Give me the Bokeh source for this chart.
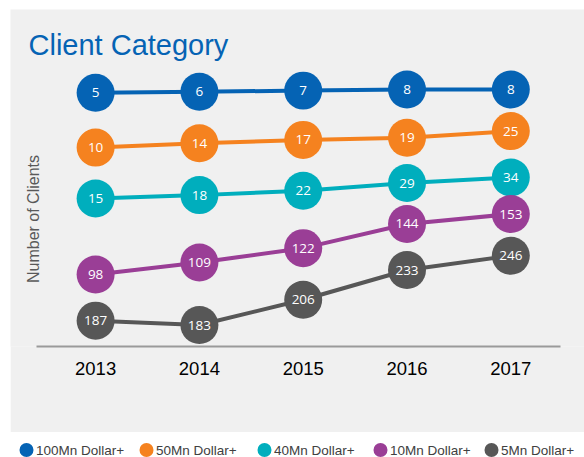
import numpy as np
from bokeh.plotting import figure
from bokeh.models import ColumnDataSource, Label, FixedTicker, Range1d
from bokeh.layouts import column
from bokeh.embed import file_html
from bokeh.resources import INLINE
from bokeh.core.properties import value

# ---------------- data ----------------
years = [2013, 2014, 2015, 2016, 2017]
year_labels = ["2013", "2014", "2015", "2016", "2017"]
series_names = ["100Mn Dollar+", "50Mn Dollar+", "40Mn Dollar+", "10Mn Dollar+", "5Mn Dollar+"]
clients_100mn = [5, 6, 7, 8, 8]
clients_50mn = [10, 14, 17, 19, 25]
clients_40mn = [15, 18, 22, 29, 34]
clients_10mn = [98, 109, 122, 144, 153]
clients_5mn = [187, 183, 206, 233, 246]
all_series = [clients_100mn, clients_50mn, clients_40mn, clients_10mn, clients_5mn]

# ---------------- layout / style ----------------
# the source chart stacks every series in its own vertical band
band_offset = [0, 54.8, 106.0, 258.2, 389.1]
colors = ["#0563b4", "#f5821f", "#00aebd", "#9a3e96", "#575757"]
GRAY = "#f0f0f0"

W_MAIN, H_MAIN = 574, 423
W_LEG, H_LEG = 584, 25
BOTTOM = 86
FRAME_H = H_MAIN - BOTTOM
LEFT, TOP = 10, 9
X0, X1 = 2012.180, 2017.710
Y0, Y1 = -225.6, 80.73
# legend strip layout (pixel positions of the legend entries)
legend_dot_x = [26, 146, 264, 380, 491]
legend_text_gap = 9.5
legend_mid_y = 7.5


def px_x(page_x):
    return X0 + (page_x - LEFT) / W_MAIN * (X1 - X0)


def px_y(page_y):
    return Y1 - (page_y - TOP) / FRAME_H * (Y1 - Y0)


p = figure(width=W_MAIN, height=H_MAIN, x_range=(X0, X1), y_range=(Y0, Y1),
           output_backend="svg", toolbar_location=None, y_axis_location=None,
           min_border_left=0, min_border_right=0, min_border_top=0,
           min_border_bottom=BOTTOM)
p.margin = (TOP, 0, 0, LEFT)
p.background_fill_color = GRAY
p.border_fill_color = GRAY
p.outline_line_color = None
p.grid.visible = False

ax = p.xaxis[0]
ax.ticker = FixedTicker(ticks=years)
ax.major_label_overrides = {y: l for y, l in zip(years, year_labels)}
ax.bounds = (px_x(36), px_x(560))
ax.axis_line_color = "#9a9a9a"
ax.axis_line_width = 2
ax.major_tick_line_color = None
ax.minor_tick_line_color = None
ax.major_label_text_font = "Liberation Sans"
ax.major_label_text_font_size = "18.5px"
ax.major_label_text_color = "#000000"
ax.major_label_standoff = 9

for vals, off, col in zip(all_series, band_offset, colors):
    src = ColumnDataSource(dict(x=years, y=[v - off for v in vals],
                                label=[str(v) for v in vals]))
    p.line("x", "y", source=src, line_color=col, line_width=4)
    p.scatter("x", "y", source=src, size=38, fill_color=col, line_color=None)
    p.text("x", "y", text="label", source=src, text_color="white",
           text_font=value("Open Sans"), text_font_size="13.5px",
           text_align="center", text_baseline="middle")

p.add_layout(Label(x=px_x(28), y=px_y(44), text="Client Category",
                   text_font="Liberation Sans", text_font_size="29px",
                   text_color="#0563b4", text_baseline="alphabetic"))
p.add_layout(Label(x=px_x(33), y=px_y(218.5), text="Number of Clients",
                   angle=np.pi / 2, text_align="center", text_baseline="middle",
                   text_font="Liberation Sans", text_font_size="16px",
                   text_color="#595959"))

# ---------------- legend strip ----------------
p2 = figure(width=W_LEG, height=H_LEG, output_backend="svg", toolbar_location=None,
            x_axis_location=None, y_axis_location=None, min_border=0,
            x_range=Range1d(0, W_LEG), y_range=Range1d(0, H_LEG))
p2.background_fill_color = "white"
p2.border_fill_color = "white"
p2.outline_line_color = None
p2.grid.visible = False

leg_src = ColumnDataSource(dict(
    x=legend_dot_x,
    tx=[x + legend_text_gap for x in legend_dot_x],
    y=[legend_mid_y] * len(series_names),
    name=series_names,
    color=colors,
))
p2.scatter("x", "y", source=leg_src, size=14, fill_color="color", line_color=None)
p2.text("tx", "y", text="name", source=leg_src, text_color="#404040",
        text_font=value("Liberation Sans"), text_font_size="13.5px",
        text_align="left", text_baseline="middle")

layout = column(p, p2, spacing=0)
open("out.html", "w").write(file_html(layout, INLINE))
